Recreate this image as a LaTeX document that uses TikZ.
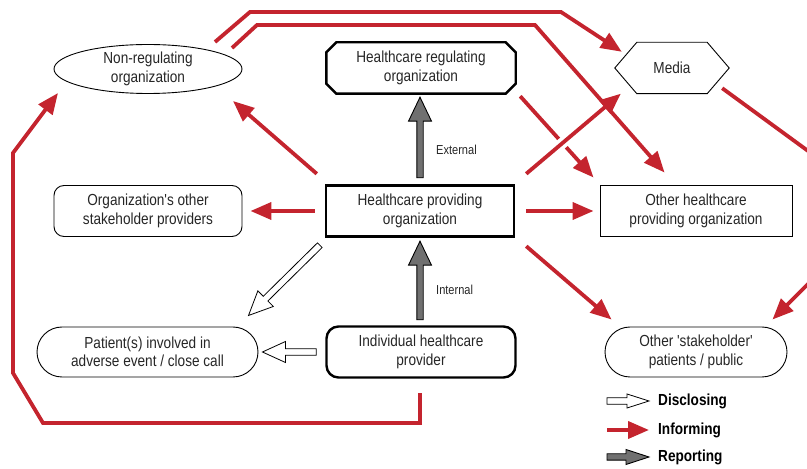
\documentclass[tikz,border=0pt]{standalone}
\usepackage{fontspec}
\setmainfont{Liberation Sans}[FakeStretch=0.85, Ligatures=TeXOff]
\usetikzlibrary{arrows.meta,calc,shapes.geometric}
\definecolor{inred}{RGB}{196,36,46}
\definecolor{repgray}{RGB}{112,112,112}
\newcommand\fatarr[6]{%
 \path[#1] let \p1=($(#3)-(#2)$), \n1={atan2(\y1,\x1)}, \n2={veclen(\x1,\y1)} in
  [shift={(#2)}, rotate=\n1] (0,-#4) -- (\n2-#6,-#4) -- (\n2-#6,-#5) -- (\n2,0) -- (\n2-#6,#5) -- (\n2-#6,#4) -- (0,#4) -- cycle;}
\begin{document}
\begin{tikzpicture}[x=1pt,y=1pt,
  every node/.style={font=\fontsize{16}{18.5}\selectfont, align=center, inner sep=0pt, text=black!85},
  boxthin/.style={draw, line width=0.9pt, minimum height=51pt},
  boxthick/.style={draw, line width=2.4pt, minimum height=51pt},
  inform/.style={draw=inred, line width=3.8pt, -{Triangle[length=21pt,width=17pt]}},
  report/.style={draw=black, line width=0.9pt, fill=repgray},
  disclose/.style={draw=black, line width=0.8pt, fill=white},
  lbl/.style={font=\fontsize{13}{15}\selectfont, anchor=west},
  legend/.style={font=\fontsize{16}{18}\selectfont\bfseries, anchor=west, text=black}]
\useasboundingbox (0,0) rectangle (807,469);
\clip (0,0) rectangle (807,469);

% nodes
\node[ellipse, draw, line width=0.9pt, minimum width=188pt, minimum height=49pt] (nro) at (148,400) {Non-regulating\\organization};
\node[minimum width=189pt, minimum height=51pt] (hro) at (421,401) {Healthcare regulating\\organization};
\draw[line width=2.4pt] ([xshift=10pt]hro.north west) -- ([xshift=-10pt]hro.north east) -- ([yshift=-10pt]hro.north east) -- ([yshift=10pt]hro.south east) -- ([xshift=-10pt]hro.south east) -- ([xshift=10pt]hro.south west) -- ([yshift=10pt]hro.south west) -- ([yshift=-10pt]hro.north west) -- cycle;
\node[minimum width=114pt, minimum height=51pt] (media) at (672,401) {Media};
\draw[line width=0.9pt] (media.west) -- ([xshift=22pt]media.north west) -- ([xshift=-22pt]media.north east) -- (media.east) -- ([xshift=-22pt]media.south east) -- ([xshift=22pt]media.south west) -- cycle;
\node[boxthin, rounded corners=10pt, minimum width=188pt] (oosp) at (148,258) {Organization's other\\stakeholder providers};
\node[boxthick, minimum width=188pt] (hpo) at (420,258) {Healthcare providing\\organization};
\node[boxthin, minimum width=192pt] (ohpo) at (696,258) {Other healthcare\\providing organization};
\node[boxthin, rounded corners=25pt, minimum width=221pt, minimum height=50pt] (pat) at (147.5,117) {Patient(s) involved in\\adverse event / close call};
\node[boxthick, rounded corners=12pt, minimum width=189pt] (ihp) at (421,117) {Individual healthcare\\provider};
\node[boxthin, rounded corners=25pt, minimum width=182pt, minimum height=50pt] (osp) at (696,117) {Other 'stakeholder'\\patients / public};

% reporting
\fatarr{report}{[yshift=6.5pt]hpo.north}{[shift={(-1,-3.5)}]hro.south}{3.2}{11.5}{24}
\fatarr{report}{[shift={(-1,5.5)}]ihp.north}{[yshift=-3.5pt]hpo.south}{3.2}{11.5}{24}
\node[lbl] (ext) at (436,319) {External};
\node[lbl] (int) at (436,179) {Internal};

% disclosing
\fatarr{disclose}{[shift={(-5,-7.5)}]hpo.south west}{[shift={(-10,11)}]pat.north east}{3.3}{11}{24}
\fatarr{disclose}{[xshift=-9pt]ihp.west}{[xshift=4pt]pat.east}{3.3}{10.5}{23}

% informing
\draw[inform] ([shift={(-8,10.5)}]hpo.north west) -- ([shift={(85,-32)}]nro.center);
\draw[inform] ([xshift=-10pt]hpo.west) -- ([xshift=8pt]oosp.east);
\draw[inform] ([xshift=11pt]hpo.east) -- ([xshift=-6pt]ohpo.west);
\draw[inform] ([shift={(11,-8.5)}]hpo.south east) -- ([shift={(7,7)}]osp.north west);
\draw[inform] ([shift={(4.5,-2.5)}]hro.south east) -- ([shift={(-6,7.5)}]ohpo.north west);
\draw[inform] ([shift={(67,27)}]nro.center) -- (250,457) -- (561,457) -- ([shift={(7,-9.5)}]media.north west);
\draw[inform] ([shift={(84,21)}]nro.center) -- (257,444) -- (535,444) -- ([shift={(65,12.5)}]ohpo.north west);
\draw[draw=white, line width=11pt, shorten <=22pt, shorten >=30pt] ([shift={(11,10.5)}]hpo.north east) -- ([xshift=6pt]media.south west);
\draw[inform] ([shift={(11,10.5)}]hpo.north east) -- ([xshift=6pt]media.south west);
\draw[inform] ([shift={(-7,5.5)}]media.south east) -- (830,302) -- (830,207) -- ([shift={(-15,7)}]osp.north east);
\draw[inform] ([shift={(-1,-14.5)}]ihp.south) -- (420,46) -- (43,46) -- (13,96) -- (13,316) -- ([shift={(-90,-24)}]nro.center);

% legend
\coordinate (d0) at (607,68); \coordinate (d1) at (649,68);
\coordinate (i0) at (607,39); \coordinate (i1) at (649,39);
\coordinate (r0) at (607,12); \coordinate (r1) at (649,12);
\fatarr{disclose}{d0}{d1}{3.2}{7}{22}
\draw[inform] (i0) -- (i1);
\fatarr{report}{r0}{r1}{3.2}{7.5}{23}
\node[legend] (ld) at (658,68) {Disclosing};
\node[legend] (li) at (658,39) {Informing};
\node[legend] (lr) at (658,12) {Reporting};
\end{tikzpicture}
\end{document}
